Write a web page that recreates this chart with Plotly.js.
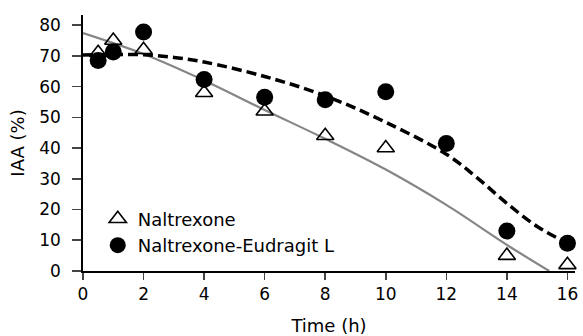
<!DOCTYPE html>
<html>
<head>
<meta charset="utf-8">
<script src="https://cdn.plot.ly/plotly-3.0.1.min.js"></script>
<style>html,body{margin:0;padding:0;background:#fff;}#chart{width:583px;height:336px;}</style>
</head>
<body>
<div id="chart"></div>
<script>
// Measured data (Time in h, IAA in %)
var naltrexoneTime = [0.5, 1, 2, 4, 6, 8, 10, 14, 16];
var naltrexoneIAA  = [71, 75, 72, 58, 52, 44, 40, 5, 2];

var eudragitTime = [0.5, 1, 2, 4, 6, 8, 10, 12, 14, 16];
var eudragitIAA  = [68.5, 71.3, 77.8, 62.3, 56.5, 55.7, 58.3, 41.5, 13, 9];

// Fitted curves
var fitNaltrexoneTime = [0, 2, 4, 6, 8, 10, 12, 14, 15.4];
var fitNaltrexoneIAA  = [77.4, 70.6, 62, 52.4, 43, 33, 21.5, 8.5, 0];

var fitEudragitTime = [0, 1, 2, 3, 4, 6, 8, 10, 12, 13, 14, 15, 16];
var fitEudragitIAA  = [70.3, 70.4, 70.4, 69.5, 68, 63.3, 57, 48.4, 38, 30.5, 22, 14.5, 9];

var xTicks = [0, 2, 4, 6, 8, 10, 12, 14, 16];
var yTicks = [0, 10, 20, 30, 40, 50, 60, 70, 80];

var traces = [
  {x: fitNaltrexoneTime, y: fitNaltrexoneIAA, mode: 'lines', line: {color: '#858585', width: 2.2, shape: 'spline'}, showlegend: false, hoverinfo: 'skip'},
  {x: fitEudragitTime, y: fitEudragitIAA, mode: 'lines', line: {color: '#000', width: 3.5, dash: '10px,5px', shape: 'spline'}, showlegend: false, hoverinfo: 'skip'},
  {x: naltrexoneTime, y: naltrexoneIAA, mode: 'markers', name: 'Naltrexone', legendgroup: 'a',
   marker: {symbol: 'triangle-up-open', size: 15, color: '#000', line: {color: '#000', width: 1.6}}, cliponaxis: false},
  {x: eudragitTime, y: eudragitIAA, mode: 'markers', name: 'Naltrexone-Eudragit L', legendgroup: 'b',
   marker: {symbol: 'circle', size: 17, color: '#000'}, cliponaxis: false}
];

var layout = {
  width: 583, height: 336,
  margin: {l: 83, r: 8, t: 15, b: 65},
  paper_bgcolor: '#fff', plot_bgcolor: '#fff',
  font: {family: '"DejaVu Sans", "Liberation Sans", sans-serif', size: 17, color: '#000'},
  showlegend: true,
  legend: {x: 0.03, y: 0.275, xanchor: 'left', yanchor: 'top', bgcolor: 'rgba(0,0,0,0)',
           font: {size: 18}, tracegroupgap: 0, itemsizing: 'trace'},
  xaxis: {range: [0, 16.25], tickvals: xTicks, ticks: 'outside', ticklen: 7, tickwidth: 1.6,
          showline: true, linewidth: 1.8, linecolor: '#000', showgrid: false, zeroline: false,
          tickfont: {size: 17},
          title: {text: 'Time (h)', standoff: 18, font: {size: 18}}, automargin: false, fixedrange: true},
  yaxis: {range: [0, 83.3], tickvals: yTicks, ticks: 'outside', ticklen: 9, tickwidth: 1.6,
          ticklabelstandoff: 8,
          showline: true, linewidth: 1.8, linecolor: '#000', showgrid: false, zeroline: false,
          tickfont: {size: 17},
          title: {text: 'IAA (%)', standoff: 10, font: {size: 18}}, automargin: false, fixedrange: true}
};

Plotly.newPlot('chart', traces, layout, {displayModeBar: false, staticPlot: true});
</script>
</body>
</html>
